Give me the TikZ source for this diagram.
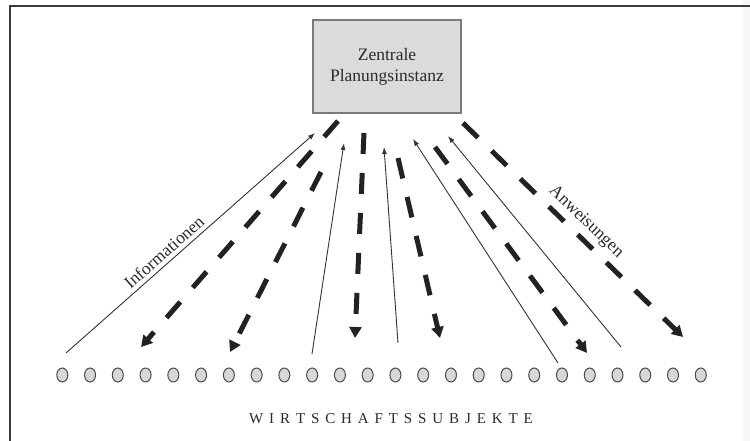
\documentclass[tikz,border=0pt]{standalone}
\usepackage{fontspec}
\setmainfont{Liberation Serif}
\usetikzlibrary{arrows.meta,shapes.geometric}
\definecolor{boxfill}{HTML}{D9DBDC}
\definecolor{boxline}{HTML}{7A7A7A}
\definecolor{circfill}{HTML}{D5D8D9}
\definecolor{circline}{HTML}{4A4A4A}
\definecolor{darkline}{HTML}{222222}
\definecolor{thinline}{HTML}{333333}
\definecolor{framecol}{HTML}{3C3C3C}
\definecolor{textcol}{HTML}{2A2A2A}
\newcommand\lsp{\hspace{5.9pt}}
\begin{document}
\begin{tikzpicture}[x=1pt,y=-1pt,
  box/.style={draw=boxline, fill=boxfill, line width=1.2pt, minimum width=148pt, minimum height=93pt, inner sep=0pt, align=center, text=textcol, font=\fontsize{17.5}{21}\selectfont},
  subj/.style={ellipse, draw=circline, fill=circfill, line width=1pt, minimum width=11pt, minimum height=14pt, inner sep=0pt},
  order/.style={line width=5pt, draw=darkline, dash pattern=on 21pt off 19pt, -{Triangle[length=11pt,width=12pt]}},
  info/.style={line width=0.9pt, draw=thinline, -{Latex[length=7pt,width=5pt]}},
  lbl/.style={font=\fontsize{17.5}{20}\selectfont, text=textcol, inner sep=0pt}]
\useasboundingbox (0,0) rectangle (750,441);
\fill[gray!6] (743,0) rectangle (750,441);
\draw[line width=2pt, color=framecol] (10,441) -- (10,6) -- (750,6);

\node[box] (zpi) at (387,66.5) {Zentrale\\Planungsinstanz};

\foreach \i in {1,...,24}
  \node[subj] (c\i) at ({62.3+27.76*(\i-1)},375) {};

\node[font=\fontsize{15}{18}\selectfont, text=textcol, inner sep=0pt] (ws) at (391,419)
  {W\lsp I\lsp R\lsp T\lsp S\lsp C\lsp H\lsp A\lsp F\lsp T\lsp S\lsp S\lsp U\lsp B\lsp J\lsp E\lsp K\lsp T\lsp E};

% connector ends
\coordinate (i1b) at (66,353);  \coordinate (i1t) at (315,133);
\coordinate (i2b) at (312,354); \coordinate (i2t) at (344,143);
\coordinate (i3b) at (398,343); \coordinate (i3t) at (384,147);
\coordinate (i4b) at (558,363); \coordinate (i4t) at (413,139);
\coordinate (i5b) at (621,347); \coordinate (i5t) at (448,136);

\coordinate (oAt) at (338,121); \coordinate (oAb) at (141,347);
\coordinate (oBt) at (321,172); \coordinate (oBb) at (230,352);
\coordinate (oCt) at (364,133); \coordinate (oCb) at (355,338);
\coordinate (oDt) at (398,158); \coordinate (oDb) at (440,338);
\coordinate (oEt) at (435,147); \coordinate (oEb) at (587,353);
\coordinate (oFt) at (463,123); \coordinate (oFb) at (683,337);

\draw[info] (i1b) -- (i1t);
\draw[info] (i2b) -- (i2t);
\draw[info] (i3b) -- (i3t);
\draw[info] (i4b) -- (i4t);
\draw[info] (i5b) -- (i5t);

\draw[order] (oAt) -- (oAb);
\draw[order] (oBt) -- (oBb);
\draw[order] (oCt) -- (oCb);
\draw[order] (oDt) -- (oDb);
\draw[order] (oEt) -- (oEb);
\draw[order] (oFt) -- (oFb);

\node[lbl, rotate=41.5] (linfo) at (164,252) {Informationen};
\node[lbl, rotate=-44] (lanw) at (586,222) {Anweisungen};
\end{tikzpicture}
\end{document}
